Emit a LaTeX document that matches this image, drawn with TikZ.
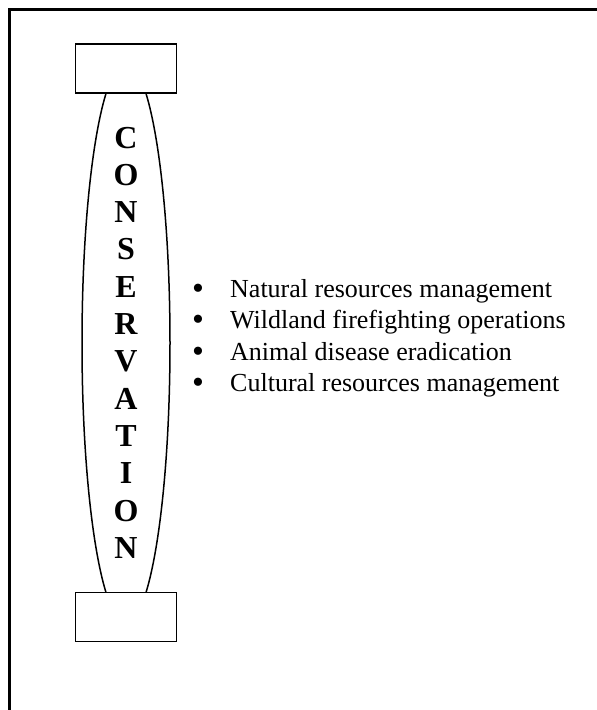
\documentclass[tikz,border=0pt]{standalone}
\usepackage{fontspec}
\setmainfont{Liberation Serif}

\begin{document}
\begin{tikzpicture}[x=1pt, y=-1pt,
  box/.style={draw, line width=1.6pt, fill=white, minimum width=101pt, minimum height=49pt, inner sep=0pt},
  letter/.style={anchor=base, inner sep=0pt, font=\fontsize{32}{36}\selectfont\bfseries},
  bullet/.style={anchor=base, inner sep=0pt, font=\fontsize{34}{36}\selectfont},
  item/.style={anchor=base west, inner sep=0pt, font=\fontsize{26}{30}\selectfont}]

\useasboundingbox (0,0) rectangle (597,710);

% Draw the page frame
\draw[line width=3pt] (9,710) -- (9,9) -- (597,9);

% draw the ellipse, then the boxes on its ends:
\def\cx{126}
\draw[line width=1.5pt] (\cx,343) ellipse (44pt and 280pt);
\node[box] (topbox) at (\cx,68.5) {};
\node[box] (botbox) at (\cx,617) {};

% the word, one letter under the other
\foreach \ch [count=\i from 0] in {C,O,N,S,E,R,V,A,T,I,O,N}
  \node[letter] (ch\i) at (\cx,{148+37.3*\i}) {\ch};

% the list
\foreach \txt [count=\i from 0] in {Natural resources management, Wildland firefighting operations, Animal disease eradication, Cultural resources management}
{
  \node[bullet] (dot\i) at (198,{299+31.5*\i}) {•};
  \node[item] (item\i) at (230,{297+31.5*\i}) {\txt};
}
\end{tikzpicture}
\end{document}
